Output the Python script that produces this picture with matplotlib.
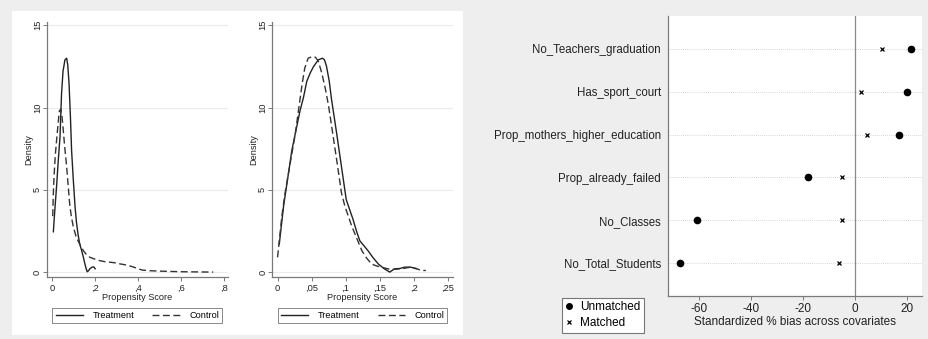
import numpy as np
import matplotlib
matplotlib.use('Agg')
import matplotlib.pyplot as plt
from matplotlib.patches import Rectangle
from matplotlib.lines import Line2D

plt.rcParams['font.family'] = ['Liberation Sans', 'DejaVu Sans']

# densité du score de propension, avant appariement
ps_before_treat_x = [0.005, 0.012, 0.02, 0.028, 0.036, 0.043, 0.05, 0.059, 0.067, 0.072, 0.078, 0.085,
                     0.09, 0.098, 0.106, 0.113, 0.12, 0.128, 0.137, 0.145, 0.152, 0.158, 0.163,
                     0.17, 0.175, 0.183, 0.19, 0.196, 0.20]
ps_before_treat_y = [2.45, 3.8, 5.2, 6.8, 8.2, 10.8, 12.2, 12.9, 13.0, 12.6, 11.5, 9.3,
                     7.4, 5.6, 4.0, 3.0, 2.3, 1.7, 1.3, 0.9, 0.5, 0.2, 0.02,
                     0.1, 0.2, 0.28, 0.32, 0.28, 0.2]
ps_before_ctrl_x = [0.002, 0.005, 0.009, 0.014, 0.02, 0.027, 0.033, 0.04, 0.045, 0.05, 0.058, 0.067,
                    0.075, 0.082, 0.09, 0.098, 0.11, 0.12, 0.132, 0.145, 0.16, 0.175, 0.2, 0.22,
                    0.25, 0.27, 0.3, 0.315, 0.35, 0.38, 0.4, 0.42, 0.46, 0.5, 0.55, 0.61, 0.68, 0.75]
ps_before_ctrl_y = [3.4, 4.8, 6.0, 7.1, 8.0, 9.0, 9.8, 9.9, 9.5, 8.8, 7.6, 6.4,
                    5.1, 4.0, 3.3, 2.75, 2.2, 1.9, 1.6, 1.3, 1.05, 0.9, 0.78, 0.7,
                    0.62, 0.6, 0.55, 0.5, 0.42, 0.3, 0.2, 0.12, 0.08, 0.06, 0.04, 0.02, 0.01, 0.0]

# densité du score de propension, après appariement
ps_after_treat_x = [0.0025, 0.0088, 0.016, 0.021, 0.028, 0.033, 0.038, 0.043, 0.048, 0.053, 0.06, 0.066,
                    0.069, 0.072, 0.076, 0.079, 0.083, 0.087, 0.094, 0.101, 0.106, 0.111, 0.116,
                    0.121, 0.127, 0.133, 0.14, 0.148, 0.157, 0.165, 0.172, 0.18, 0.187, 0.196, 0.204]
ps_after_treat_y = [1.7, 4.0, 6.0, 7.4, 8.8, 9.8, 10.6, 11.6, 12.1, 12.5, 12.9, 13.0,
                    12.9, 12.5, 11.6, 10.6, 9.5, 8.4, 6.4, 4.4, 3.8, 3.2, 2.5,
                    1.9, 1.6, 1.3, 0.9, 0.5, 0.2, 0.0, 0.2, 0.22, 0.3, 0.3, 0.2]
ps_after_ctrl_x = [0.0, 0.0063, 0.011, 0.016, 0.021, 0.026, 0.031, 0.036, 0.04, 0.045, 0.051, 0.056,
                   0.06, 0.065, 0.07, 0.075, 0.079, 0.083, 0.087, 0.094, 0.099, 0.104, 0.109,
                   0.114, 0.119, 0.124, 0.131, 0.138, 0.145, 0.153, 0.16, 0.167, 0.175, 0.182,
                   0.19, 0.196, 0.204, 0.211, 0.218]
ps_after_ctrl_y = [0.9, 3.4, 4.8, 6.0, 7.2, 8.4, 9.9, 11.4, 12.4, 13.0, 13.1, 13.05,
                   12.8, 12.1, 11.2, 10.1, 9.0, 7.9, 6.8, 4.8, 4.0, 3.4, 2.8,
                   2.3, 1.8, 1.3, 0.85, 0.5, 0.38, 0.3, 0.22, 0.16, 0.18, 0.2,
                   0.26, 0.3, 0.22, 0.1, 0.1]

# biais standardisé par covariable
covariates = ['No_Teachers_graduation', 'Has_sport_court', 'Prop_mothers_higher_education',
              'Prop_already_failed', 'No_Classes', 'No_Total_Students']
bias_unmatched = [21.4, 19.9, 17.0, -18.2, -60.8, -67.4]
bias_matched = [10.6, 2.3, 4.7, -5.1, -5.0, -6.0]

x_ticks_before = [0, 0.2, 0.4, 0.6, 0.8]
x_ticks_after = [0, 0.05, 0.1, 0.15, 0.2, 0.25]
y_ticks_density = [0, 5, 10, 15]
x_ticks_bias = [-60, -40, -20, 0, 20]

W, H = 929, 339
bg = '#eeeeee'
grid_c = '#ebebeb'
spine_c = '#7a7a7a'
txt_c = '#222222'
fig = plt.figure(figsize=(W / 100, H / 100), dpi=100, facecolor=bg)

# panneau blanc derrière les deux densités
fig.patches.append(Rectangle((12 / W, 4 / H), 451 / W, 324 / H, transform=fig.transFigure,
                             facecolor='white', edgecolor='none', zorder=-5))


def fmt_comma(v):
    # format Stata à la française : ,2 au lieu de 0.2
    if v == 0:
        return '0'
    s = ('%g' % v)
    return s.replace('0.', ',', 1)


def density_panel(rect, tx, ty, cx, cy, xticks, xlim):
    ax = fig.add_axes(rect, zorder=2)
    ax.set_facecolor('white')
    ax.plot(tx, ty, color='#222222', lw=1.0, label='Treatment')
    ax.plot(cx, cy, color='#333333', lw=1.0, dashes=(5, 2.5), label='Control')
    ax.set_xlim(xlim)
    ax.set_ylim(-0.28, 15.2)
    ax.set_yticks(y_ticks_density)
    ax.set_yticklabels([str(t) for t in y_ticks_density], rotation=90, va='center')
    ax.set_xticks(xticks)
    ax.set_xticklabels([fmt_comma(t) for t in xticks])
    ax.yaxis.grid(True, color=grid_c, lw=0.8)
    ax.set_axisbelow(True)
    for s in ['top', 'right']:
        ax.spines[s].set_visible(False)
    for s in ['left', 'bottom']:
        ax.spines[s].set_color(spine_c)
        ax.spines[s].set_linewidth(0.9)
    ax.tick_params(labelsize=6.7, length=3, width=0.7, color=spine_c, labelcolor=txt_c, pad=2)
    ax.tick_params(axis='y', pad=0.5)
    ax.set_xlabel('Propensity Score', fontsize=6.6, labelpad=0, color=txt_c)
    ax.set_ylabel('Density', fontsize=6.6, labelpad=0, color=txt_c)
    leg = ax.legend(loc='upper center', bbox_to_anchor=(0.5, -0.105), ncol=2, fontsize=6.6,
                    fancybox=False, edgecolor='#888888', framealpha=1, handlelength=3.0,
                    columnspacing=2.0, borderpad=0.35, handletextpad=1.0)
    leg.get_frame().set_linewidth(0.7)
    return ax


density_panel([46.7 / W, 1 - 276.7 / H, 181.3 / W, (276.7 - 22) / H],
              ps_before_treat_x, ps_before_treat_y, ps_before_ctrl_x, ps_before_ctrl_y,
              x_ticks_before, (-0.026, 0.819))
density_panel([272 / W, 1 - 276.7 / H, 181 / W, (276.7 - 22) / H],
              ps_after_treat_x, ps_after_treat_y, ps_after_ctrl_x, ps_after_ctrl_y,
              x_ticks_after, (-0.0082, 0.258))

# graphique des biais
ax3 = fig.add_axes([668 / W, 1 - 296 / H, 254 / W, 280 / H])
ax3.set_facecolor('white')
ypos = np.arange(1, len(covariates) + 1)
for y in ypos:
    ax3.axhline(y, color='#c8c8c8', lw=0.6, ls=(0, (1, 1.5)), zorder=1)
ax3.axvline(0, color='#8a8a8a', lw=0.9, zorder=1)
ax3.plot(bias_unmatched, ypos, 'o', color='black', ms=4.5, ls='none', zorder=3)
ax3.plot(bias_matched, ypos, 'x', color='black', ms=3.2, mew=0.9, ls='none', zorder=3)
ax3.set_ylim(6.77, 0.23)
ax3.set_xlim(-71.9, 25.8)
ax3.set_yticks(ypos)
ax3.set_yticklabels(covariates)
ax3.set_xticks(x_ticks_bias)
ax3.set_xticklabels(['%d' % t for t in x_ticks_bias])
for s in ['top', 'right']:
    ax3.spines[s].set_visible(False)
for s in ['left', 'bottom']:
    ax3.spines[s].set_color(spine_c)
    ax3.spines[s].set_linewidth(0.9)
ax3.tick_params(axis='y', length=0, labelsize=8.3, labelcolor=txt_c, pad=5)
ax3.tick_params(axis='x', length=3, width=0.7, color=spine_c, labelcolor=txt_c, labelsize=8.5, pad=2)
ax3.set_xlabel('Standardized % bias across covariates', fontsize=8.5, labelpad=1, color=txt_c)

handles = [Line2D([], [], marker='o', color='black', ms=4, ls='none'),
           Line2D([], [], marker='x', color='black', ms=3.2, mew=0.9, ls='none')]
leg3 = fig.legend(handles, ['Unmatched', 'Matched'], loc='lower left',
                  bbox_to_anchor=(562 / W, 6 / H), fontsize=8.5, fancybox=False,
                  edgecolor='#777777', framealpha=1, handlelength=0.6, handletextpad=0.6,
                  borderpad=0.3, labelspacing=0.35, borderaxespad=0)
leg3.get_frame().set_linewidth(0.8)

fig.savefig('out.png', dpi=100, facecolor=bg)
